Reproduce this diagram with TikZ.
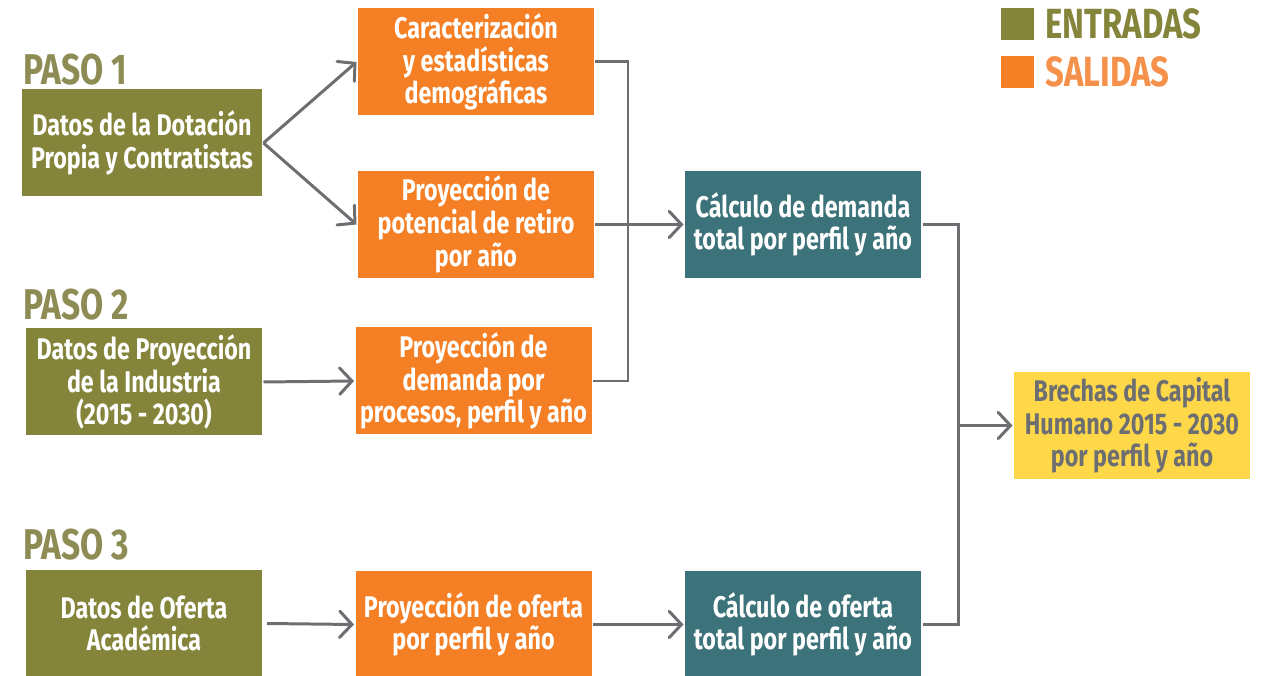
\documentclass[tikz,border=0pt]{standalone}
\usepackage{fontspec}
\setmainfont{Fira Sans}[FakeStretch=0.78]
\usetikzlibrary{arrows.meta}

\definecolor{oliva}{HTML}{85843B}
\definecolor{olivaclaro}{HTML}{8D8C55}
\definecolor{naranja}{HTML}{F47F24}
\definecolor{naranjaclaro}{HTML}{F5914A}
\definecolor{petroleo}{HTML}{3C727A}
\definecolor{amarillo}{HTML}{FFD84A}
\definecolor{gris}{HTML}{6D6E71}

\begin{document}
\begin{tikzpicture}[line width=1.7pt,
  caja/.style={minimum width=4.72cm, minimum height=2.14cm, inner sep=2pt,
    align=center, font=\fontsize{17}{18.6}\selectfont\bfseries, text=white},
  entrada/.style={caja, fill=oliva},
  salida/.style={caja, fill=naranja},
  calculo/.style={caja, fill=petroleo},
  brecha/.style={caja, fill=amarillo, text=gris},
  paso/.style={anchor=west, inner sep=0pt, text=olivaclaro,
    font=\fontsize{24.5}{24}\selectfont\bfseries},
  leyenda/.style={anchor=west, inner sep=0pt, font=\fontsize{24}{24}\selectfont\bfseries},
  flecha/.style={draw=gris, -{Straight Barb[length=7pt,width=15pt,line cap=round]}},
  linea/.style={draw=gris}]
\useasboundingbox (0,0) rectangle (25.62,-13.52);

\node[paso] (p1) at (0.44,-1.40) {PASO 1};
\node[paso] (p2) at (0.44,-6.10) {PASO 2};
\node[paso] (p3) at (0.44,-10.90) {PASO 3};

\node[entrada, minimum width=4.8cm] (dotacion) at (2.84,-2.86) {Datos de la Dotación\\Propia y Contratistas};
\node[entrada] (industria) at (2.88,-7.64) {Datos de Proyección\\de la Industria\\(2015 - 2030)};
\node[entrada] (oferta) at (2.88,-12.47) {Datos de Oferta\\Académica};

\node[salida] (demog) at (9.52,-1.24) {Caracterización\\y estadísticas\\demográficas};
\node[salida] (retiro) at (9.52,-4.49) {Proyección de\\potencial de retiro\\por año};
\node[salida] (procesos) at (9.47,-7.62) {Proyección de\\demanda por\\procesos, perfil y año};
\node[salida] (proyof) at (9.47,-12.49) {Proyección de oferta\\por perfil y año};

\node[calculo] (demanda) at (16.06,-4.49) {Cálculo de demanda\\total por perfil y año};
\node[calculo] (ofertatot) at (16.06,-12.49) {Cálculo de oferta\\total por perfil y año};

\node[brecha] (brechas) at (22.64,-8.51) {Brechas de Capital\\Humano 2015 - 2030\\por perfil y año};

\fill[oliva] (20.02,-0.16) rectangle (20.68,-0.80);
\node[leyenda, text=oliva] (entradas) at (20.88,-0.48) {ENTRADAS};
\fill[naranja] (20.02,-1.12) rectangle (20.68,-1.76);
\node[leyenda, text=naranjaclaro] (salidas) at (20.88,-1.44) {SALIDAS};

\coordinate (barra1) at (12.56,0);
\coordinate (barra2) at (19.16,0);

\draw[flecha] (dotacion.east) -- (demog.west);
\draw[flecha] (dotacion.east) -- (retiro.west);
\draw[flecha] (industria.east) -- (procesos.west);
\draw[flecha] ([xshift=2pt]oferta.east) -- (proyof.west);
\draw[flecha] (proyof.east) -- (ofertatot.west);

\draw[linea] (demog.east) -- (demog.east -| barra1) -- (procesos.east -| barra1) -- (procesos.east);
\draw[flecha] (retiro.east) -- (demanda.west);

\draw[linea] (demanda.east) -- (demanda.east -| barra2) -- (ofertatot.east -| barra2) -- (ofertatot.east);
\draw[flecha] (brechas.west -| barra2) -- (brechas.west);

\end{tikzpicture}
\end{document}
